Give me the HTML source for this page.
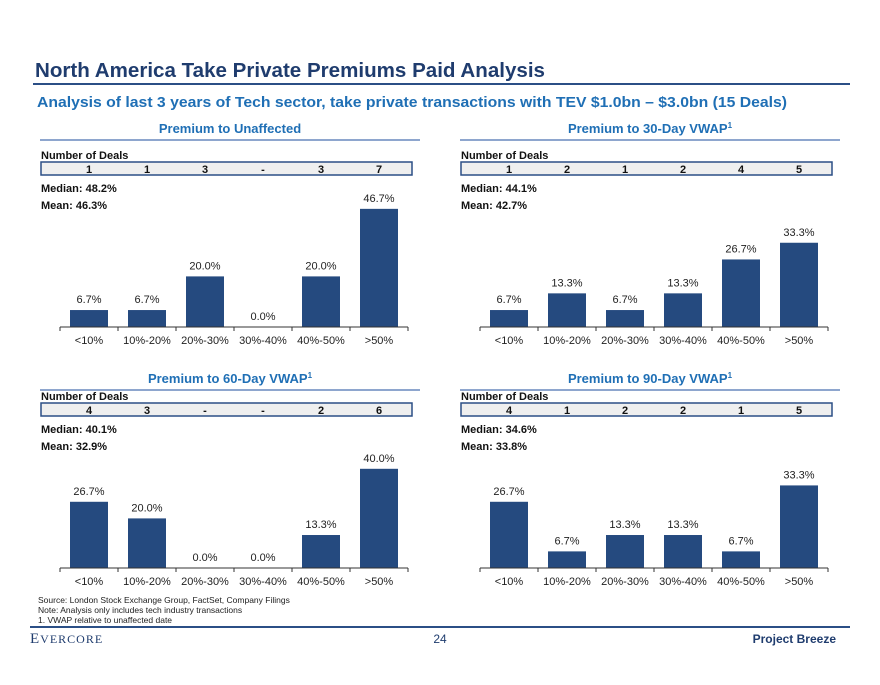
<!DOCTYPE html>
<html><head><meta charset="utf-8"><style>
body{margin:0;background:#fff;}
svg, svg text{font-family:"Liberation Sans",Arial,sans-serif;}
</style></head><body>
<svg id="s" width="880" height="680" viewBox="0 0 880 680" xmlns="http://www.w3.org/2000/svg" font-family="Liberation Sans, sans-serif">
<text x="35" y="77" font-size="20" font-weight="bold" fill="#1F3C6E" textLength="510" lengthAdjust="spacingAndGlyphs">North America Take Private Premiums Paid Analysis</text>
<line x1="33" y1="84" x2="850" y2="84" stroke="#2B4F86" stroke-width="2"/>
<text x="37" y="107" font-size="15" font-weight="bold" fill="#1F6FB5" textLength="750" lengthAdjust="spacingAndGlyphs">Analysis of last 3 years of Tech sector, take private transactions with TEV $1.0bn – $3.0bn (15 Deals)</text>
<g id="charts"></g>
<text x="38" y="603" font-size="8.5" fill="#222">Source: London Stock Exchange Group, FactSet, Company Filings</text>
<text x="38" y="613" font-size="8.5" fill="#222">Note: Analysis only includes tech industry transactions</text>
<text x="38" y="623" font-size="8.5" fill="#222">1.     VWAP relative to unaffected date</text>
<line x1="30" y1="627" x2="850" y2="627" stroke="#2B4F86" stroke-width="2"/>
<text x="30" y="643" font-size="15" fill="#1F3C6E" style="font-family:'Liberation Serif',serif" letter-spacing="1">E<tspan font-size="12">VERCORE</tspan></text>
<text x="440" y="643" font-size="12" fill="#1F3C6E" text-anchor="middle">24</text>
<text x="836" y="643" font-size="12" font-weight="bold" fill="#1F3C6E" text-anchor="end">Project Breeze</text>
</svg>
<script>
const categories=["<10%","10%-20%","20%-30%","30%-40%","40%-50%",">50%"];
const titles=["Premium to Unaffected","Premium to 30-Day VWAP","Premium to 60-Day VWAP","Premium to 90-Day VWAP"];
const supers=["","1","1","1"];
const dealsUnaffected=["1","1","3","-","3","7"];
const deals30=["1","2","1","2","4","5"];
const deals60=["4","3","-","-","2","6"];
const deals90=["4","1","2","2","1","5"];
const valuesUnaffected=[6.7,6.7,20.0,0.0,20.0,46.7];
const values30=[6.7,13.3,6.7,13.3,26.7,33.3];
const values60=[26.7,20.0,0.0,0.0,13.3,40.0];
const values90=[26.7,6.7,13.3,13.3,6.7,33.3];
const medians=["48.2%","44.1%","40.1%","34.6%"];
const means=["46.3%","42.7%","32.9%","33.8%"];
const allDeals=[dealsUnaffected,deals30,deals60,deals90];
const allValues=[valuesUnaffected,values30,values60,values90];
const NS="http://www.w3.org/2000/svg";
const g=document.getElementById('charts');
function mk(tag,attrs,parent,txt){const e=document.createElementNS(NS,tag);for(const k in attrs)e.setAttribute(k,attrs[k]);if(txt!==undefined)e.textContent=txt;parent.appendChild(e);return e;}
const keys=["unaffected","vwap30","vwap60","vwap90"];
for(let p=0;p<4;p++){
  const ox=(p%2)*420, row=Math.floor(p/2), oy=row*241, ty=row*250;
  const pg=mk('g',{},g);
  
  
  const t=mk('text',{x:230+ox,y:133+ty,'font-size':13,'font-weight':'bold',fill:'#1F6FB5','text-anchor':'middle'},pg,titles[p]);
  
  
  if(supers[p]){mk('tspan',{'font-size':8,dy:-5},t,supers[p]);}
  const rl=mk('line',{x1:40+ox,y1:140+ty,x2:420+ox,y2:140+ty,stroke:'#4A72B0','stroke-width':1.2},pg);
  
  
  const nd=mk('text',{x:41+ox,y:159+oy,'font-size':11,'font-weight':'bold',fill:'#111'},pg,'Number of Deals');
  
  
  const bx=mk('rect',{x:41+ox,y:162+oy,width:371,height:13,fill:'#EFEFEF',stroke:'#2B4F86','stroke-width':1.5},pg);
  
  
  const x0=60+ox, step=58, base=327+oy, scale=(p<2?2.53:2.48);
  const xc=i=>x0+step*i+29;
  const y=v=>base-v*scale;
  allDeals[p].forEach((d,i)=>{const e=mk('text',{x:xc(i),y:173+oy,'font-size':11,'font-weight':'bold',fill:'#111','text-anchor':'middle'},pg,d);
    
    });
  const md=mk('text',{x:41+ox,y:192+oy,'font-size':11,'font-weight':'bold',fill:'#111'},pg,'Median: '+medians[p]);
  
  
  const mn=mk('text',{x:41+ox,y:209+oy,'font-size':11,'font-weight':'bold',fill:'#111'},pg,'Mean: '+means[p]);
  
  
  allValues[p].forEach((v,i)=>{
    const r=mk('rect',{x:xc(i)-19,y:y(v),width:38,height:base-y(v),fill:'#254A7F'},pg);
    
    
    const l=mk('text',{x:xc(i),y:y(v)-7,'font-size':11,fill:'#222','text-anchor':'middle'},pg,v.toFixed(1)+'%');
    
    
    const c=mk('text',{x:xc(i),y:base+17,'font-size':11,fill:'#222','text-anchor':'middle'},pg,categories[i]);
    
    
  });
  const ax=mk('line',{x1:x0,y1:base,x2:x0+step*6,y2:base,stroke:'#333','stroke-width':1},pg);
  
  
  for(let i=0;i<=6;i++){const tk=mk('line',{x1:x0+step*i,y1:base,x2:x0+step*i,y2:base+4,stroke:'#333'},pg);
    
    }
}
</script>
</body></html>
